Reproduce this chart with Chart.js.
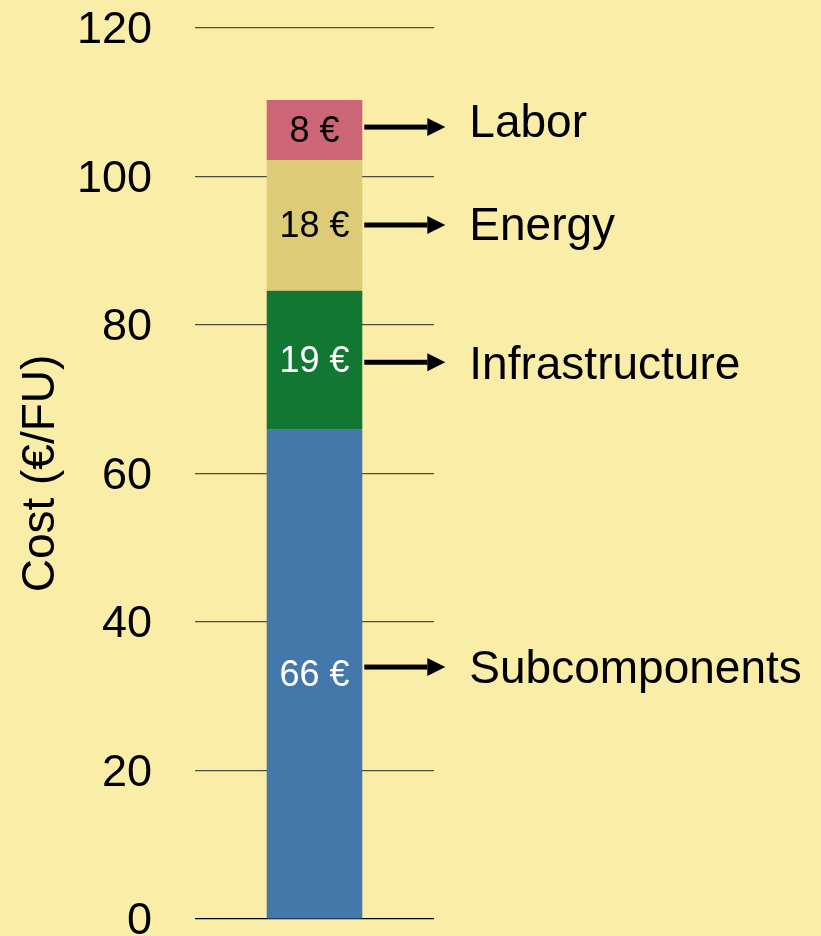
<!DOCTYPE html>
<html>
<head>
<meta charset="utf-8">
<script src="https://cdn.jsdelivr.net/npm/chart.js@4/dist/chart.umd.min.js"></script>
<style>
  html, body { margin: 0; padding: 0; background: #FAEDA7; }
  #wrap { width: 821px; height: 936px; }
</style>
</head>
<body>
<div id="wrap"><canvas id="c" width="821" height="936"></canvas></div>
<script>
const categories = [''];
const seriesNames = ['Subcomponents', 'Infrastructure', 'Energy', 'Labor'];
const subcomponents = [65.9];
const infrastructure = [18.7];
const energy = [17.6];
const labor = [8.1];
const seriesColors = ['#4477AA', '#117733', '#DDCC77', '#CC6677'];
const labelColors = ['#ffffff', '#ffffff', '#000000', '#000000'];
const yTicks = [0, 20, 40, 60, 80, 100, 120];
const yTitle = 'Cost (€/FU)';

const FONT = '"Liberation Sans", Arial, Helvetica, sans-serif';
const seriesValues = [subcomponents, infrastructure, energy, labor];

// hand-placed annotation nudges (pixels, relative to segment middle)
const arrowNudge = [-7, 2, -0.5, -3];
const textNudge = [-4, 6, 2, -6];

const annot = {
  id: 'annot',
  afterDatasetsDraw(chart) {
    const ctx = chart.ctx;
    ctx.save();
    chart.data.datasets.forEach((ds, i) => {
      const meta = chart.getDatasetMeta(i);
      const bar = meta.data[0];
      if (!bar) return;
      const p = bar.getProps(['x', 'y', 'base', 'width'], true);
      const mid = (p.y + p.base) / 2;
      ctx.font = '36px ' + FONT;
      ctx.fillStyle = labelColors[i];
      ctx.textAlign = 'center';
      ctx.textBaseline = 'middle';
      ctx.fillText(Math.round(ds.data[0]) + ' €', p.x, mid + 2);
      const x0 = p.x + p.width / 2 + 2;
      const tip = x0 + 81;
      const ay = mid + arrowNudge[i];
      ctx.fillStyle = '#000';
      ctx.fillRect(x0, ay - 2.5, tip - 18 - x0, 5);
      ctx.beginPath();
      ctx.moveTo(tip - 18, ay - 9);
      ctx.lineTo(tip, ay);
      ctx.lineTo(tip - 18, ay + 9);
      ctx.closePath();
      ctx.fill();
      ctx.font = '46px ' + FONT;
      ctx.textAlign = 'left';
      ctx.fillText(ds.label, tip + 24, mid + textNudge[i]);
    });
    ctx.restore();
  }
};

new Chart(document.getElementById('c'), {
  type: 'bar',
  data: {
    labels: categories,
    datasets: seriesNames.map((name, i) => ({
      label: name,
      data: seriesValues[i],
      backgroundColor: seriesColors[i],
      borderWidth: 0,
      barPercentage: 0.4,
      categoryPercentage: 1.0
    }))
  },
  options: {
    responsive: false,
    animation: false,
    layout: { padding: { left: 0, right: 387, top: 28, bottom: 17 } },
    plugins: { legend: { display: false }, tooltip: { enabled: false } },
    scales: {
      x: { stacked: true, display: false },
      y: {
        stacked: true,
        min: 0,
        max: 120,
        afterBuildTicks: s => { s.ticks = yTicks.map(v => ({ value: v })); },
        afterFit: s => {
          s.width = 195;
          s.paddingTop = 0; s.paddingBottom = 0;
          s.paddingLeft = 0; s.paddingRight = 0;
        },
        border: { display: false },
        grid: {
          drawTicks: false,
          color: c => (c.tick && c.tick.value === 0) ? '#000' : '#4d4d40',
          lineWidth: 1.2
        },
        ticks: {
          padding: 43,
          labelOffset: 3,
          color: '#000',
          font: { family: FONT, size: 45 }
        },
        title: {
          display: true,
          text: yTitle,
          color: '#000',
          font: { family: FONT, size: 46 },
          padding: { top: 14, bottom: 0 }
        }
      }
    }
  },
  plugins: [annot]
});
</script>
</body>
</html>
